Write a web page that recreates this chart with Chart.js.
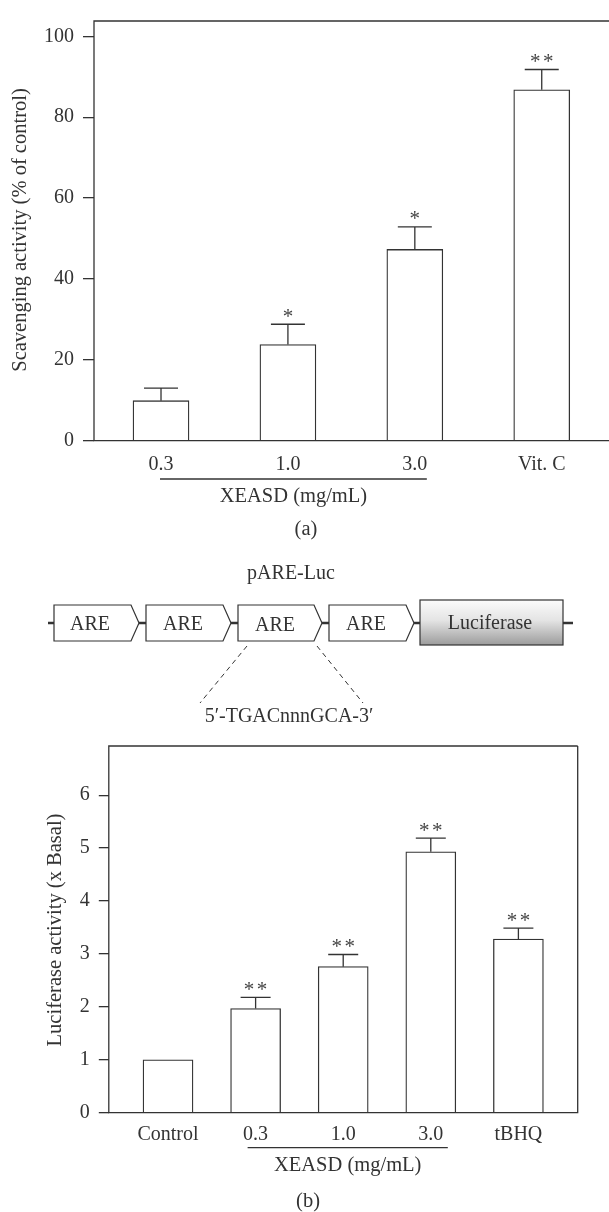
<!DOCTYPE html>
<html>
<head>
<meta charset="utf-8">
<script src="https://cdn.jsdelivr.net/npm/chart.js@4.4.0/dist/chart.umd.min.js"></script>
<style>
  html, body { margin: 0; padding: 0; background: #fff; width: 609px; height: 1212px; overflow: hidden; }
  #wrapA { position: absolute; left: 0; top: 0; width: 609px; height: 540px; }
  #wrapB { position: absolute; left: 0; top: 725px; width: 609px; height: 487px; }
  #diagram { position: absolute; left: 0; top: 0; pointer-events: none; }
  #diagram text { font-family: "Liberation Serif", "DejaVu Serif", serif; font-size: 20px; fill: #333; }
</style>
</head>
<body>
<div id="wrapA"><canvas id="chartA"></canvas></div>
<div id="wrapB"><canvas id="chartB"></canvas></div>

<svg id="diagram" width="609" height="1212">
  <defs>
    <linearGradient id="lucGrad" x1="0" y1="0" x2="0" y2="1">
      <stop offset="0" stop-color="#fbfbfb"/>
      <stop offset="0.45" stop-color="#e4e4e4"/>
      <stop offset="1" stop-color="#9c9c9c"/>
    </linearGradient>
  </defs>
  <text x="291" y="579" text-anchor="middle">pARE-Luc</text>
  <line x1="48" y1="623" x2="573" y2="623" stroke="#333" stroke-width="2.5"/>
  <polygon points="54,605 131,605 139,623 131,641 54,641" fill="#fff" stroke="#333" stroke-width="1.2"/>
  <polygon points="146,605 223,605 231,623 223,641 146,641" fill="#fff" stroke="#333" stroke-width="1.2"/>
  <polygon points="238,605 314,605 322,623 314,641 238,641" fill="#fff" stroke="#333" stroke-width="1.2"/>
  <polygon points="329,605 406,605 414,623 406,641 329,641" fill="#fff" stroke="#333" stroke-width="1.2"/>
  <rect x="420" y="600" width="143" height="45" fill="url(#lucGrad)" stroke="#333" stroke-width="1.2"/>
  <text x="90" y="630" text-anchor="middle">ARE</text>
  <text x="183" y="630" text-anchor="middle">ARE</text>
  <text x="275" y="631" text-anchor="middle">ARE</text>
  <text x="366" y="630" text-anchor="middle">ARE</text>
  <text x="490" y="629" text-anchor="middle">Luciferase</text>
  <line x1="247" y1="646" x2="200" y2="703" stroke="#333" stroke-width="1" stroke-dasharray="5,4"/>
  <line x1="317" y1="646" x2="363" y2="703" stroke="#333" stroke-width="1" stroke-dasharray="5,4"/>
  <text x="289" y="722" text-anchor="middle">5′-TGACnnnGCA-3′</text>
</svg>

<script>
// panel (a): DPPH scavenging
const catsA = ['0.3', '1.0', '3.0', 'Vit. C'];
const valsA = [9.9, 23.8, 47.3, 86.8];
const errsA = [3.1, 5.0, 5.6, 5.0];
const starsA = ['', '*', '*', '**'];
const yTicksA = [0, 20, 40, 60, 80, 100];

// panel (b): luciferase reporter
const catsB = ['Control', '0.3', '1.0', '3.0', 'tBHQ'];
const valsB = [1.0, 1.97, 2.76, 4.93, 3.28];
const errsB = [0, 0.21, 0.23, 0.26, 0.21];
const starsB = ['', '**', '**', '**', '**'];
const yTicksB = [0, 1, 2, 3, 4, 5, 6];

const ink = '#333';
const serif = '"Liberation Serif", "DejaVu Serif", serif';
const tickFont = { family: serif, size: 20 };

const figurePlugin = {
  id: 'figure',
  afterDatasetsDraw(chart, args, o) {
    const { ctx, chartArea: a, scales: { x, y } } = chart;
    ctx.save();
    ctx.strokeStyle = ink;
    ctx.fillStyle = ink;
    ctx.lineWidth = 1.3;

    // error bars (upper only) + significance stars
    o.vals.forEach((v, i) => {
      const px = x.getPixelForValue(i);
      const top = y.getPixelForValue(v + o.errs[i]);
      if (o.errs[i]) {
        ctx.beginPath();
        ctx.moveTo(px, y.getPixelForValue(v));
        ctx.lineTo(px, top);
        ctx.moveTo(px - o.cap, top);
        ctx.lineTo(px + o.cap, top);
        ctx.stroke();
      }
      const n = o.stars[i].length;
      ctx.font = '21px ' + serif;
      ctx.textAlign = 'center';
      ctx.textBaseline = 'alphabetic';
      ctx.fillStyle = '#444';
      for (let k = 0; k < n; k++) {
        ctx.fillText('*', px + (k - (n - 1) / 2) * 13, top - 1.5);
      }
      ctx.fillStyle = ink;
    });

    // frame
    ctx.beginPath();
    ctx.moveTo(a.right, a.top);
    ctx.lineTo(a.left, a.top);
    ctx.lineTo(a.left, a.bottom);
    ctx.lineTo(a.right, a.bottom);
    if (o.rightBorder) ctx.lineTo(a.right, a.top);
    ctx.stroke();

    // y axis title
    ctx.font = '20.5px ' + serif;
    ctx.textAlign = 'center';
    ctx.textBaseline = 'middle';
    ctx.save();
    ctx.translate(o.titleX, o.titleY);
    ctx.rotate(-Math.PI / 2);
    ctx.fillText(o.title, 0, 0);
    ctx.restore();

    // group bracket under the XEASD doses
    const gx0 = x.getPixelForValue(o.group[0]) + o.groupPad[0];
    const gx1 = x.getPixelForValue(o.group[1]) + o.groupPad[1];
    ctx.beginPath();
    ctx.moveTo(gx0, o.groupY);
    ctx.lineTo(gx1, o.groupY);
    ctx.stroke();
    ctx.fillText('XEASD (mg/mL)', (gx0 + gx1) / 2, o.groupY + 18);

    ctx.fillText(o.panel, o.panelX, o.panelY);
    ctx.restore();
  }
};

function makeChart(id, cats, vals, errs, stars, yTicks, cfg) {
  return new Chart(document.getElementById(id), {
    type: 'bar',
    data: {
      datasets: [{
        data: vals.map((v, i) => ({ x: i, y: v })),
        backgroundColor: '#fff',
        borderColor: ink,
        borderWidth: 1.3,
        barThickness: cfg.barW
      }]
    },
    plugins: [figurePlugin],
    options: {
      animation: false,
      responsive: true,
      maintainAspectRatio: false,
      layout: { padding: { left: 0, top: cfg.padTop, right: cfg.padRight, bottom: 0 } },
      plugins: {
        legend: { display: false },
        tooltip: { enabled: false },
        figure: {
          vals: vals, errs: errs, stars: stars, cap: cfg.cap,
          rightBorder: cfg.rightBorder,
          title: cfg.title, titleX: cfg.titleX, titleY: cfg.titleY,
          group: cfg.group, groupPad: cfg.groupPad, groupY: cfg.groupY,
          panel: cfg.panel, panelX: cfg.panelX, panelY: cfg.panelY
        }
      },
      scales: {
        x: {
          type: 'linear',
          offset: false,
          min: cfg.xMin,
          max: cfg.xMax,
          grid: { display: false, offset: false },
          border: { display: false },
          afterBuildTicks: s => { s.ticks = cats.map((c, i) => ({ value: i })); },
          ticks: { callback: v => cats[v], color: ink, font: tickFont, padding: cfg.xPad, maxRotation: 0, autoSkip: false },
          afterFit: s => { s.height = cfg.xH; }
        },
        y: {
          min: 0,
          max: cfg.yMax,
          afterBuildTicks: s => { s.ticks = yTicks.map(v => ({ value: v })); },
          grid: { drawOnChartArea: false, drawTicks: true, tickLength: cfg.tickLen, color: ink, lineWidth: 1.3 },
          border: { display: false },
          ticks: { color: ink, font: tickFont, padding: 9 },
          afterFit: s => { s.width = cfg.yW; }
        }
      }
    }
  });
}

makeChart('chartA', catsA, valsA, errsA, starsA, yTicksA, {
  barW: 56, cap: 17, padTop: 15, padRight: 0, xMin: -0.528, xMax: 3.53, xH: 99.3, xPad: 4,
  yMax: 103.8, yW: 94, tickLen: 11, rightBorder: false,
  title: 'Scavenging activity (% of control)', titleX: 21, titleY: 230,
  group: [0, 2], groupPad: [-1, 12], groupY: 479,
  panel: '(a)', panelX: 306, panelY: 530
});

makeChart('chartB', catsB, valsB, errsB, starsB, yTicksB, {
  barW: 50, cap: 15, padTop: 10, padRight: 31.3, xMin: -0.676, xMax: 4.677, xH: 99.3, xPad: 2,
  yMax: 6.93, yW: 108.8, tickLen: 10, rightBorder: true,
  title: 'Luciferase activity (x Basal)', titleX: 56, titleY: 205,
  group: [1, 3], groupPad: [-8, 17], groupY: 422.7,
  panel: '(b)', panelX: 308, panelY: 477
});
</script>
</body>
</html>
